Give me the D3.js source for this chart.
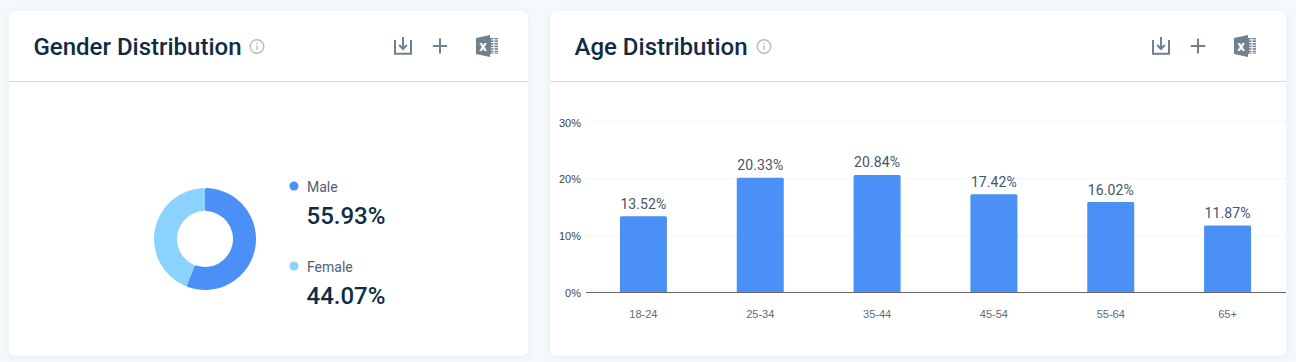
<!DOCTYPE html>
<html>
<head>
<meta charset="utf-8">
<script src="https://cdn.jsdelivr.net/npm/d3@7"></script>
<style>
  html, body { margin: 0; padding: 0; background: #f5f9fc; overflow: hidden; }
  svg { display: block; font-family: Roboto, sans-serif; }
  .title { font-size: 24px; font-weight: 500; fill: #0f2c44; }
  .tick text { font-size: 11px; }
</style>
</head>
<body>
<svg id="chart" width="1296" height="362"></svg>
<script>
var gender_names = ["Male", "Female"];
var gender_values = [55.93, 44.07];
var gender_colors = ["#4a90f7", "#8bd3fe"];

var age_groups = ["18-24", "25-34", "35-44", "45-54", "55-64", "65+"];
var age_values = [13.52, 20.33, 20.84, 17.42, 16.02, 11.87];
var age_ticks = [0, 10, 20, 30];

var svg = d3.select("#chart");

var defs = svg.append("defs");
var blur = defs.append("filter").attr("id", "card_shadow")
    .attr("x", "-5%").attr("y", "-5%").attr("width", "110%").attr("height", "110%");
blur.append("feDropShadow").attr("dx", 0).attr("dy", 1).attr("stdDeviation", 3)
    .attr("flood-color", "#8fa3b5").attr("flood-opacity", 0.16);

function add_card( x, w, title, info_x ){
    var grp = svg.append("g");
    grp.append("rect")
        .attr("x", x).attr("y", 11)
        .attr("width", w).attr("height", 345)
        .attr("rx", 6)
        .attr("fill", "#fff")
        .attr("filter", "url(#card_shadow)");
    grp.append("line")
        .attr("x1", x).attr("x2", x + w)
        .attr("y1", 81.5).attr("y2", 81.5)
        .attr("stroke", "#d4d6d8");
    grp.append("text")
        .attr("class", "title")
        .attr("x", x + 24.5).attr("y", 55)
        .text(title);

    // info icon
    var info = grp.append("g").attr("transform", "translate(" + info_x + ",46.5)");
    info.append("circle").attr("r", 6.8).attr("fill", "none")
        .attr("stroke", "#b9bcbf").attr("stroke-width", 1.4);
    info.append("rect").attr("x", -0.7).attr("y", -1).attr("width", 1.4).attr("height", 4.6).attr("fill", "#b9bcbf");
    info.append("rect").attr("x", -0.7).attr("y", -3.6).attr("width", 1.4).attr("height", 1.4).attr("fill", "#b9bcbf");
}

function add_icons( download_x, plus_x, excel_x ){
    var col = "#6f808f";
    var dl = svg.append("g").attr("transform", "translate(" + download_x + ",37)")
        .attr("fill", "none").attr("stroke", col);
    dl.append("path").attr("d", "M1,3V16.8H17V3").attr("stroke-width", 2);
    dl.append("path").attr("d", "M9,0V11").attr("stroke-width", 2);
    dl.append("path").attr("d", "M5.2,8L9,12L12.8,8").attr("stroke-width", 2);

    var plus = svg.append("g").attr("transform", "translate(" + plus_x + ",46)")
        .attr("stroke", col).attr("stroke-width", 2);
    plus.append("line").attr("x1", -7.2).attr("x2", 7.2);
    plus.append("line").attr("y1", -7.5).attr("y2", 7.5);

    var xl = svg.append("g").attr("transform", "translate(" + excel_x + ",35)");
    xl.append("rect").attr("x", 13).attr("y", 3).attr("width", 9).attr("height", 16).attr("fill", col);
    d3.range(6).forEach(function(i){
        xl.append("rect").attr("x", 15).attr("y", 4.4 + i * 2.6)
            .attr("width", 7).attr("height", 1).attr("fill", "#fff");
    });
    xl.append("rect").attr("x", 17.5).attr("y", 3).attr("width", 1).attr("height", 16).attr("fill", "#fff");
    xl.append("path").attr("d", "M0,3L14,0V22L0,19Z").attr("fill", col);
    xl.append("text").attr("x", 7).attr("y", 15.8).attr("text-anchor", "middle")
        .attr("font-size", 15).attr("font-weight", 700).attr("fill", "#fff").text("x");
}

add_card(9, 519, "Gender Distribution", 257);
add_card(550, 736, "Age Distribution", 764);
add_icons(394, 440, 476);
add_icons(1152, 1198, 1234);

// donut
var pie = d3.pie().sort(null).value(function(d){ return d; });
var arc = d3.arc().innerRadius(28).outerRadius(51).cornerRadius(1.5);
var donut = svg.append("g").attr("transform", "translate(205,239)");
donut.selectAll("path")
    .data(pie(gender_values))
    .enter().append("path")
    .attr("d", arc)
    .attr("fill", function(d, i){ return gender_colors[i]; });

// legend
var legend_y = d3.scalePoint().domain(gender_names).range([187, 267]);
var legend = svg.selectAll(".legend")
    .data(gender_names)
    .enter().append("g")
    .attr("class", "legend")
    .attr("transform", function(d){ return "translate(294," + legend_y(d) + ")"; });
legend.append("circle")
    .attr("r", 4.5)
    .attr("cy", -1)
    .attr("fill", function(d, i){ return gender_colors[i]; });
legend.append("text")
    .attr("x", 13).attr("y", 4.5)
    .attr("font-size", 14).attr("fill", "#4d5f70")
    .text(function(d){ return d; });
legend.append("text")
    .attr("x", 12.5).attr("y", 36.5)
    .attr("font-size", 24).attr("font-weight", 500).attr("fill", "#0f2c44")
    .text(function(d, i){ return gender_values[i].toFixed(2) + "%"; });

// bars
var x = d3.scaleBand().domain(age_groups).range([585, 1286]).paddingInner(0.6).paddingOuter(0.3);
var y = d3.scaleLinear().domain([0, 30]).range([292.3, 121.8]);
// bars sit a little short of the gridlines in the original
var bar_y = d3.scaleLinear().domain([0, 30]).range([292.3, 123.4]);

svg.append("g")
    .selectAll("line")
    .data(age_ticks.slice(1))
    .enter().append("line")
    .attr("x1", 586).attr("x2", 1286)
    .attr("y1", function(d){ return y(d); })
    .attr("y2", function(d){ return y(d); })
    .attr("stroke", "#f4f5f6");

var bar_w = 47;
svg.append("g")
    .selectAll("path")
    .data(age_values)
    .enter().append("path")
    .attr("fill", "#4a90f7")
    .attr("d", function(d, i){
        var c = x(age_groups[i]) + x.bandwidth() / 2;
        var p = d3.path();
        p.moveTo(c - bar_w / 2, bar_y(0));
        p.lineTo(c - bar_w / 2, bar_y(d) + 1.5);
        p.quadraticCurveTo(c - bar_w / 2, bar_y(d), c - bar_w / 2 + 1.5, bar_y(d));
        p.lineTo(c + bar_w / 2 - 1.5, bar_y(d));
        p.quadraticCurveTo(c + bar_w / 2, bar_y(d), c + bar_w / 2, bar_y(d) + 1.5);
        p.lineTo(c + bar_w / 2, bar_y(0));
        p.closePath();
        return p.toString();
    });

svg.append("g")
    .selectAll("text")
    .data(age_values)
    .enter().append("text")
    .attr("x", function(d, i){ return x(age_groups[i]) + x.bandwidth() / 2; })
    .attr("y", function(d){ return bar_y(d) - 7.5; })
    .attr("text-anchor", "middle")
    .attr("font-size", 14).attr("fill", "#44566a")
    .attr("letter-spacing", 0.1)
    .text(function(d){ return d.toFixed(2) + "%"; });

var yAxis = svg.append("g")
    .attr("transform", "translate(581,0.8)")
    .call(d3.axisLeft(y).tickValues(age_ticks).tickSize(0).tickPadding(0).tickFormat(function(d){ return d + "%"; }));
yAxis.select(".domain").remove();
yAxis.selectAll("text").attr("fill", "#444");

var xAxis = svg.append("g")
    .attr("transform", "translate(0,292.3)")
    .call(d3.axisBottom(x).tickSize(0).tickPadding(18));
xAxis.selectAll("text").attr("fill", "#5c6b7a");
xAxis.select(".domain").remove();
svg.append("line")
    .attr("x1", 586).attr("x2", 1286)
    .attr("y1", 292.5).attr("y2", 292.5)
    .attr("stroke", "#666");
</script>
</body>
</html>
